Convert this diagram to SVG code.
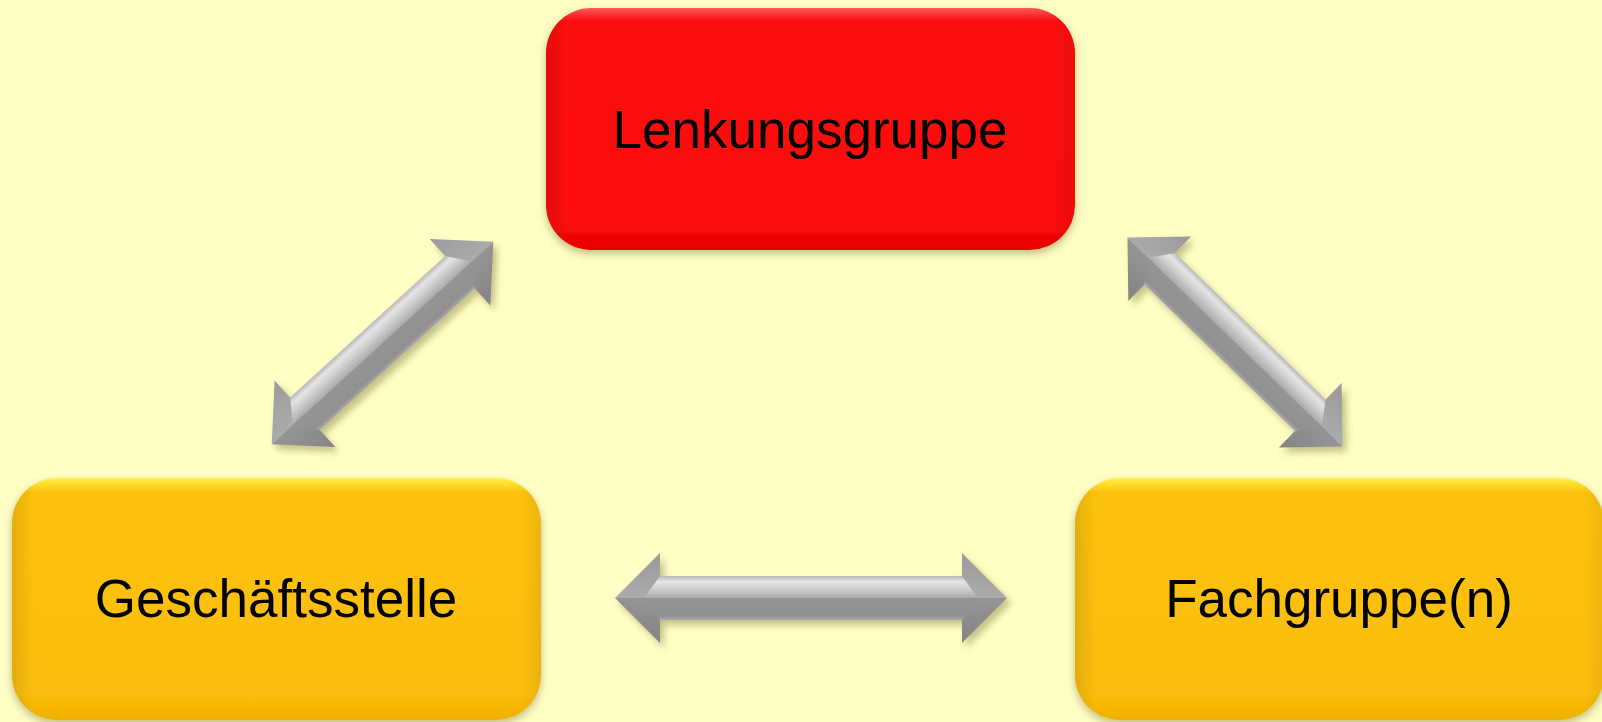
<svg xmlns="http://www.w3.org/2000/svg" width="1602" height="722" viewBox="0 0 1602 722">
<style>
.lbl{font-family:"Liberation Sans",Arial,sans-serif;font-size:53px;fill:#000;text-anchor:middle}
.hu{fill:url(#headUp)}
.hd{fill:url(#headDn)}
.st{fill:url(#shaftTop)}
.sb{fill:url(#shaftBot)}
</style>
<defs>
<filter id="boxShadow" x="-10%" y="-10%" width="120%" height="125%">
<feDropShadow dx="0" dy="4" stdDeviation="4" flood-color="#7a7030" flood-opacity="0.45"/>
</filter>
<filter id="arrShadow" x="-20%" y="-20%" width="140%" height="140%">
<feDropShadow dx="4" dy="5" stdDeviation="3.5" flood-color="#6b6420" flood-opacity="0.4"/>
</filter>
<linearGradient id="redV" x1="0" y1="0" x2="0" y2="1">
<stop offset="0" stop-color="#ff5a5a"/>
<stop offset="0.05" stop-color="#fc1010"/>
<stop offset="0.9" stop-color="#fb0a0a"/>
<stop offset="1" stop-color="#e80000"/>
</linearGradient>
<linearGradient id="yelV" x1="0" y1="0" x2="0" y2="1">
<stop offset="0" stop-color="#fff045"/>
<stop offset="0.06" stop-color="#fcc20c"/>
<stop offset="0.9" stop-color="#fbbd08"/>
<stop offset="1" stop-color="#f0b000"/>
</linearGradient>
<linearGradient id="edgeH" x1="0" y1="0" x2="1" y2="0">
<stop offset="0" stop-color="#000" stop-opacity="0.1"/>
<stop offset="0.04" stop-color="#000" stop-opacity="0"/>
<stop offset="0.96" stop-color="#000" stop-opacity="0"/>
<stop offset="1" stop-color="#000" stop-opacity="0.06"/>
</linearGradient>
<linearGradient id="shaftTop" gradientUnits="userSpaceOnUse" x1="0" y1="-22" x2="0" y2="0">
<stop offset="0" stop-color="#b8b8b8"/>
<stop offset="0.25" stop-color="#e4e4e4"/>
<stop offset="0.55" stop-color="#d0d0d0"/>
<stop offset="1" stop-color="#ababab"/>
</linearGradient>
<linearGradient id="shaftBot" gradientUnits="userSpaceOnUse" x1="0" y1="0" x2="0" y2="22">
<stop offset="0" stop-color="#949494"/>
<stop offset="0.8" stop-color="#909090"/>
<stop offset="1" stop-color="#a9a9a9"/>
</linearGradient>
<linearGradient id="headUp" x1="0" y1="0" x2="0" y2="1">
<stop offset="0" stop-color="#9a9a9a"/>
<stop offset="1" stop-color="#ababab"/>
</linearGradient>
<linearGradient id="headDn" x1="0" y1="0" x2="0" y2="1">
<stop offset="0" stop-color="#949494"/>
<stop offset="1" stop-color="#848484"/>
</linearGradient>
</defs>
<rect x="0" y="0" width="1602" height="722" fill="#ffffc5"/>

<g id="connectors">
<g id="arrow-left" filter="url(#arrShadow)">
<g transform="translate(382.5,343) rotate(-42.4)">
<polygon class="hu" points="-150,0 -105,-45 -105,0"/>
<polygon class="hd" points="-150,0 -105,45 -105,0"/>
<polygon class="hu" points="150,0 105,-45 105,0"/>
<polygon class="hd" points="150,0 105,45 105,0"/>
<polygon class="st" points="-105,-22 105,-22 121,0 -121,0"/>
<polygon class="sb" points="-121,0 121,0 105,22 -105,22"/>
</g>
</g>
<g id="arrow-right" filter="url(#arrShadow)">
<g transform="translate(1235,342) rotate(44.2)">
<polygon class="hu" points="-150,0 -105,-45 -105,0"/>
<polygon class="hd" points="-150,0 -105,45 -105,0"/>
<polygon class="hu" points="150,0 105,-45 105,0"/>
<polygon class="hd" points="150,0 105,45 105,0"/>
<polygon class="st" points="-105,-22 105,-22 121,0 -121,0"/>
<polygon class="sb" points="-121,0 121,0 105,22 -105,22"/>
</g>
</g>
<g id="arrow-bottom" filter="url(#arrShadow)">
<g transform="translate(811,598)">
<polygon class="hu" points="-196,0 -151,-45 -151,0"/>
<polygon class="hd" points="-196,0 -151,45 -151,0"/>
<polygon class="hu" points="196,0 151,-45 151,0"/>
<polygon class="hd" points="196,0 151,45 151,0"/>
<polygon class="st" points="-151,-22 151,-22 167,0 -167,0"/>
<polygon class="sb" points="-167,0 167,0 151,22 -151,22"/>
</g>
</g>
</g>

<g id="node-lenkungsgruppe">
<rect x="546" y="8" width="529" height="242" rx="45" fill="url(#redV)" filter="url(#boxShadow)"/>
<rect x="546" y="8" width="529" height="242" rx="45" fill="url(#edgeH)"/>
<text class="lbl" x="810" y="148">Lenkungsgruppe</text>
</g>

<g id="node-geschaeftsstelle">
<rect x="12" y="478" width="529" height="242" rx="45" fill="url(#yelV)" filter="url(#boxShadow)"/>
<rect x="12" y="478" width="529" height="242" rx="45" fill="url(#edgeH)"/>
<text class="lbl" x="276" y="617">Geschäftsstelle</text>
</g>

<g id="node-fachgruppe">
<rect x="1075" y="478" width="529" height="242" rx="45" fill="url(#yelV)" filter="url(#boxShadow)"/>
<rect x="1075" y="478" width="529" height="242" rx="45" fill="url(#edgeH)"/>
<text class="lbl" x="1339" y="617">Fachgruppe(n)</text>
</g>
</svg>
